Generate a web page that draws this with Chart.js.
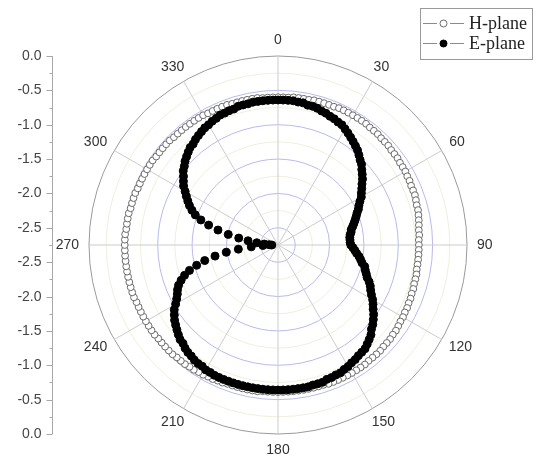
<!DOCTYPE html>
<html>
<head>
<meta charset="utf-8">
<script src="https://cdn.jsdelivr.net/npm/chart.js@4.4.0/dist/chart.umd.min.js"></script>
<style>
  body { margin: 0; background: #fff; }
  #wrap { width: 545px; height: 457px; }
</style>
</head>
<body>
<div id="wrap"><canvas id="polar" width="545" height="457"></canvas></div>
<script>
// Angles in degrees, clockwise from the top (one point every 2 degrees)
const angles = [
    0,   2,   4,   6,   8,  10,  12,  14,  16,  18,  20,  22,  24,  26,  28,
   30,  32,  34,  36,  38,  40,  42,  44,  46,  48,  50,  52,  54,  56,  58,
   60,  62,  64,  66,  68,  70,  72,  74,  76,  78,  80,  82,  84,  86,  88,
   90,  92,  94,  96,  98, 100, 102, 104, 106, 108, 110, 112, 114, 116, 118,
  120, 122, 124, 126, 128, 130, 132, 134, 136, 138, 140, 142, 144, 146, 148,
  150, 152, 154, 156, 158, 160, 162, 164, 166, 168, 170, 172, 174, 176, 178,
  180, 182, 184, 186, 188, 190, 192, 194, 196, 198, 200, 202, 204, 206, 208,
  210, 212, 214, 216, 218, 220, 222, 224, 226, 228, 230, 232, 234, 236, 238,
  240, 242, 244, 246, 248, 250, 252, 254, 256, 258, 260, 262, 264, 266, 268,
  270, 272, 274, 276, 278, 280, 282, 284, 286, 288, 290, 292, 294, 296, 298,
  300, 302, 304, 306, 308, 310, 312, 314, 316, 318, 320, 322, 324, 326, 328,
  330, 332, 334, 336, 338, 340, 342, 344, 346, 348, 350, 352, 354, 356, 358
];

// H-plane (open circles)
const hPlane = [
  -0.60, -0.60, -0.60, -0.59, -0.59, -0.59, -0.59, -0.58, -0.58, -0.58, -0.58, -0.58, -0.57, -0.57, -0.57,
  -0.57, -0.57, -0.57, -0.57, -0.58, -0.58, -0.58, -0.59, -0.59, -0.59, -0.60, -0.60, -0.60, -0.61, -0.61,
  -0.61, -0.62, -0.62, -0.63, -0.63, -0.63, -0.64, -0.65, -0.65, -0.66, -0.67, -0.68, -0.69, -0.69, -0.70,
  -0.70, -0.70, -0.70, -0.70, -0.70, -0.70, -0.69, -0.69, -0.69, -0.68, -0.68, -0.67, -0.67, -0.66, -0.66,
  -0.65, -0.65, -0.64, -0.63, -0.63, -0.62, -0.62, -0.62, -0.61, -0.61, -0.61, -0.61, -0.60, -0.60, -0.60,
  -0.60, -0.60, -0.60, -0.60, -0.60, -0.60, -0.61, -0.61, -0.61, -0.61, -0.61, -0.61, -0.61, -0.61, -0.61,
  -0.61, -0.61, -0.61, -0.61, -0.60, -0.60, -0.60, -0.60, -0.60, -0.60, -0.60, -0.59, -0.59, -0.58, -0.58,
  -0.57, -0.57, -0.56, -0.56, -0.55, -0.55, -0.55, -0.54, -0.54, -0.54, -0.54, -0.54, -0.53, -0.53, -0.53,
  -0.53, -0.53, -0.53, -0.53, -0.53, -0.52, -0.52, -0.52, -0.52, -0.52, -0.52, -0.52, -0.52, -0.52, -0.52,
  -0.52, -0.52, -0.52, -0.53, -0.53, -0.53, -0.53, -0.54, -0.54, -0.54, -0.54, -0.55, -0.55, -0.55, -0.55,
  -0.55, -0.55, -0.55, -0.56, -0.56, -0.56, -0.56, -0.56, -0.57, -0.57, -0.57, -0.57, -0.57, -0.57, -0.57,
  -0.57, -0.58, -0.58, -0.58, -0.58, -0.58, -0.59, -0.59, -0.59, -0.59, -0.59, -0.59, -0.60, -0.60, -0.60
];

// E-plane (filled circles)
const ePlane = [
  -0.64, -0.64, -0.64, -0.64, -0.65, -0.65, -0.67, -0.67, -0.68, -0.70, -0.71, -0.73, -0.74, -0.76, -0.77,
  -0.80, -0.83, -0.86, -0.89, -0.92, -0.95, -0.99, -1.03, -1.06, -1.11, -1.15, -1.19, -1.24, -1.28, -1.32,
  -1.35, -1.40, -1.44, -1.47, -1.51, -1.54, -1.57, -1.60, -1.63, -1.66, -1.67, -1.69, -1.70, -1.70, -1.70,
  -1.69, -1.66, -1.63, -1.60, -1.56, -1.53, -1.50, -1.45, -1.43, -1.40, -1.37, -1.32, -1.28, -1.25, -1.21,
  -1.16, -1.12, -1.08, -1.03, -0.99, -0.95, -0.92, -0.87, -0.84, -0.81, -0.78, -0.77, -0.76, -0.74, -0.73,
  -0.71, -0.70, -0.68, -0.68, -0.67, -0.67, -0.65, -0.65, -0.65, -0.64, -0.64, -0.64, -0.64, -0.64, -0.64,
  -0.64, -0.64, -0.64, -0.64, -0.64, -0.64, -0.64, -0.64, -0.64, -0.64, -0.64, -0.64, -0.64, -0.64, -0.65,
  -0.65, -0.67, -0.67, -0.68, -0.70, -0.71, -0.73, -0.76, -0.77, -0.80, -0.83, -0.86, -0.89, -0.93, -0.97,
  -1.03, -1.08, -1.12, -1.15, -1.19, -1.25, -1.32, -1.41, -1.53, -1.66, -1.82, -1.99, -2.17, -2.36, -2.53,
  -2.66, -2.62, -2.55, -2.44, -2.31, -2.17, -2.01, -1.85, -1.70, -1.57, -1.47, -1.40, -1.34, -1.29, -1.24,
  -1.19, -1.13, -1.09, -1.05, -1.00, -0.97, -0.93, -0.90, -0.87, -0.84, -0.83, -0.80, -0.78, -0.76, -0.74,
  -0.73, -0.71, -0.70, -0.68, -0.68, -0.67, -0.67, -0.65, -0.65, -0.65, -0.64, -0.64, -0.64, -0.64, -0.64
];

const seriesNames = ['H-plane', 'E-plane'];
const angleLabels = [0, 30, 60, 90, 120, 150, 180, 210, 240, 270, 300, 330];
const radialTicks = [0, -0.5, -1.0, -1.5, -2.0, -2.5];
const radialMinor = [-0.25, -0.75, -1.25, -1.75, -2.25, -2.75];
const rMin = -2.75;
const rMax = 0;

const labelFont = '14px "Liberation Sans", Arial, sans-serif';

// angle labels, ring ticks, the mirrored left axis and the boxed legend
const polarExtras = {
    id: 'polarExtras',
    afterDraw(chart) {
        const s = chart.scales.r;
        const ctx = chart.ctx;
        const yc = s.yCenter;
        const R = s.getDistanceFromCenterForValue(rMax);
        ctx.save();

        // short ticks on the outer ring between the spokes
        ctx.strokeStyle = '#9a9a9a';
        ctx.lineWidth = 1;
        angles.forEach((a, i) => {
            if (a % 30 !== 15) return;
            const p1 = s.getPointPosition(i, R);
            const p2 = s.getPointPosition(i, R - 5);
            ctx.beginPath();
            ctx.moveTo(p1.x, p1.y);
            ctx.lineTo(p2.x, p2.y);
            ctx.stroke();
        });

        // angle labels
        ctx.font = labelFont;
        ctx.fillStyle = '#333';
        ctx.textAlign = 'center';
        ctx.textBaseline = 'middle';
        angleLabels.forEach(a => {
            const i = angles.indexOf(a);
            const txt = String(a);
            const p = s.getPointPosition(i, R + 10);
            const w = ctx.measureText(txt).width;
            ctx.fillText(txt, p.x + Math.cos(p.angle) * w / 2, p.y + Math.sin(p.angle) * 6);
        });

        // left axis: 0.0 at the rim, min at the centre, mirrored below
        const ax = 52.5;
        ctx.strokeStyle = '#a8a8a8';
        ctx.beginPath();
        ctx.moveTo(ax, yc - R);
        ctx.lineTo(ax, yc + R);
        ctx.stroke();
        ctx.textAlign = 'right';
        ctx.fillStyle = '#444';
        radialTicks.forEach(v => {
            const d = s.getDistanceFromCenterForValue(v);
            [yc - d, yc + d].forEach(y => {
                const yy = Math.round(y) + 0.5;
                ctx.beginPath();
                ctx.moveTo(ax - 6, yy);
                ctx.lineTo(ax, yy);
                ctx.stroke();
                ctx.fillText(v.toFixed(1), ax - 11, yy);
            });
        });
        radialMinor.forEach(v => {
            const d = s.getDistanceFromCenterForValue(v);
            [yc - d, yc + d].forEach(y => {
                const yy = Math.round(y) + 0.5;
                ctx.beginPath();
                ctx.moveTo(ax - 3, yy);
                ctx.lineTo(ax, yy);
                ctx.stroke();
            });
        });

        // legend box
        const lx = 420.5, ly = 8.5, lw = 112, lh = 51;
        ctx.strokeStyle = '#9a9a9a';
        ctx.strokeRect(lx, ly, lw, lh);
        ctx.font = '18px "Liberation Serif", "Times New Roman", serif';
        ctx.textAlign = 'left';
        chart.data.datasets.forEach((ds, k) => {
            const y = 23.5 + k * 20;
            ctx.strokeStyle = '#8a8a8a';
            ctx.beginPath();
            ctx.moveTo(423, y); ctx.lineTo(437, y);
            ctx.moveTo(450, y); ctx.lineTo(464, y);
            ctx.stroke();
            ctx.beginPath();
            ctx.arc(443.5, y, 3.5, 0, Math.PI * 2);
            ctx.fillStyle = ds.pointBackgroundColor;
            ctx.fill();
            ctx.strokeStyle = ds.pointBorderColor;
            ctx.stroke();
            ctx.fillStyle = '#222';
            ctx.fillText(ds.label, 469, y + 1);
        });

        ctx.restore();
    }
};

new Chart(document.getElementById('polar'), {
    type: 'radar',
    data: {
        labels: angles,
        datasets: [
            {
                label: seriesNames[0],
                data: hPlane,
                showLine: false,
                fill: false,
                backgroundColor: 'rgba(0,0,0,0)',
                pointRadius: 3.4,
                pointBorderWidth: 1,
                pointBorderColor: '#6a6a6a',
                pointBackgroundColor: '#ffffff',
                order: 2
            },
            {
                label: seriesNames[1],
                data: ePlane,
                showLine: false,
                fill: false,
                backgroundColor: 'rgba(0,0,0,0)',
                pointRadius: 4,
                pointBorderWidth: 1,
                pointBorderColor: '#000000',
                pointBackgroundColor: '#000000',
                order: 1
            }
        ]
    },
    options: {
        responsive: false,
        devicePixelRatio: 1,
        animation: false,
        layout: {
            padding: { left: 89, right: 78, top: 56, bottom: 23 }
        },
        scales: {
            r: {
                min: rMin,
                max: rMax,
                startAngle: 0,
                ticks: { display: false, stepSize: 0.25 },
                pointLabels: { display: false },
                grid: {
                    circular: true,
                    lineWidth: 1,
                    color: function(c) {
                        const v = c.tick.value;
                        if (Math.abs(v - rMax) < 1e-6) return '#9a9a9a';
                        return Math.round(v * 4) % 2 === 0 ? '#b9b9ee' : '#efefdc';
                    }
                },
                angleLines: {
                    color: '#cccccc',
                    lineWidth: function(c) {
                        return angles[c.index] % 30 === 0 ? 1 : 0;
                    }
                }
            }
        },
        plugins: {
            legend: { display: false },
            tooltip: { enabled: false }
        }
    },
    plugins: [polarExtras]
});
</script>
</body>
</html>
